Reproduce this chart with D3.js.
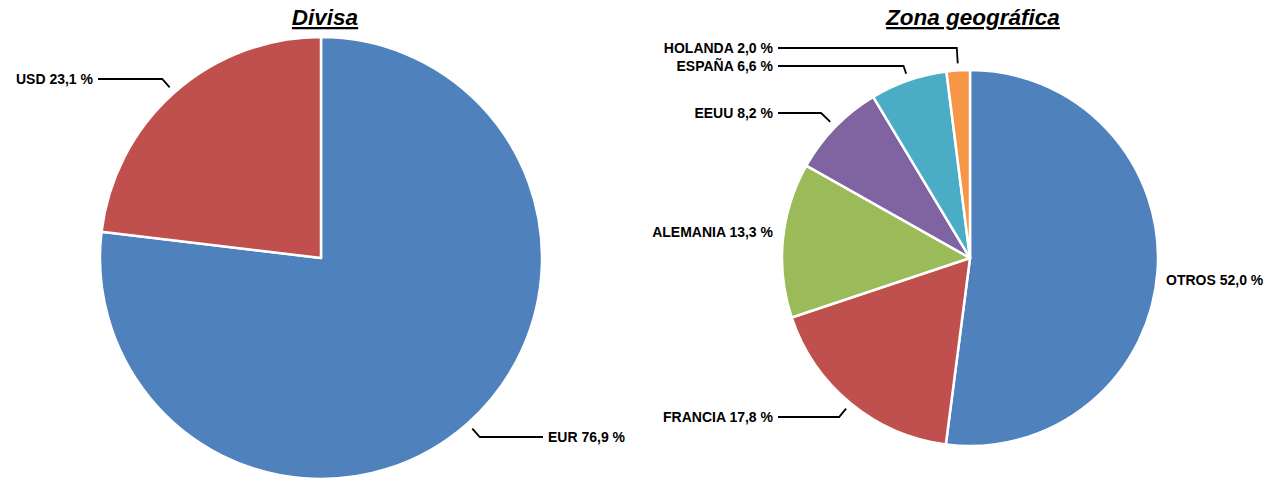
<!DOCTYPE html>
<html>
<head>
<meta charset="utf-8">
<script src="https://cdn.jsdelivr.net/npm/d3@7"></script>
<style>
  body { margin: 0; background: #fff; }
  text { font-family: "Liberation Sans", Arial, sans-serif; font-weight: bold; }
</style>
</head>
<body>
<div id="chart"></div>
<script>
// data
let divisaNames = ["EUR", "USD"];
let divisaValues = [76.9, 23.1];

let zonaNames = ["OTROS", "FRANCIA", "ALEMANIA", "EEUU", "ESPAÑA", "HOLANDA"];
let zonaValues = [52.0, 17.8, 13.3, 8.2, 6.6, 2.0];

let colors = ["#4F81BD", "#C0504D", "#9BBB59", "#8064A2", "#4BACC6", "#F79646"];

// label layout (label x, label y middle, side, draw leader?)
let divisaLabels = [
    {x: 548, y: 437, side: "right", leader: true},
    {x: 93, y: 79, side: "left", leader: true}
];
let zonaLabels = [
    {x: 1166, y: 280, side: "right", leader: false},
    {x: 773, y: 417, side: "left", leader: true},
    {x: 773, y: 232, side: "left", leader: false},
    {x: 773, y: 113, side: "left", leader: true},
    {x: 773, y: 66, side: "left", leader: true},
    {x: 773, y: 48, side: "left", leader: true}
];

let svg = d3.select("#chart")
    .append("svg")
    .attr("width", 1273)
    .attr("height", 483);

let fmt = v => d3.format(".1f")(v).replace(".", ",") + " %";

function createPie(names, values, labels, cx, cy, radius, title, titleX) {
    svg.append("text")
        .attr("x", titleX)
        .attr("y", 25)
        .attr("text-anchor", "middle")
        .style("font-size", "22.5px")
        .style("font-style", "italic")
        .style("text-decoration", "underline")
        .text(title);

    let g = svg.append("g")
        .attr("transform", "translate(" + cx + ", " + cy + ")");

    let pie = d3.pie().sort(null).value(d => d);
    let arcs = pie(values);

    let arc = d3.arc().innerRadius(0).outerRadius(radius);

    g.selectAll(".slice")
        .data(arcs)
        .enter()
        .append("path")
        .attr("class", "slice")
        .attr("d", arc)
        .style("fill", (d, i) => colors[i])
        .style("stroke", "#fff")
        .style("stroke-width", 2.5)
        .style("stroke-linejoin", "round");

    arcs.forEach(function(d, i) {
        let lab = labels[i];
        let ly = lab.y - cy;
        let lx = lab.x - cx;
        let mid = (d.startAngle + d.endAngle) / 2;
        let sx = Math.sin(mid), sy = -Math.cos(mid);

        if (lab.leader) {
            // start just outside the edge, run radially to the label row, then flat
            let r0 = radius + 7;
            let p0 = [sx * r0, sy * r0];
            let t = (ly - p0[1]) / sy;
            let p1 = [p0[0] + sx * t, ly];
            let p2 = [lab.side == "left" ? lx + 5 : lx - 5, ly];

            g.append("path")
                .attr("d", d3.line()([p0, p1, p2]))
                .style("fill", "none")
                .style("stroke", "#000")
                .style("stroke-width", 1.8);
        }

        g.append("text")
            .attr("x", lx)
            .attr("y", ly)
            .attr("dy", "0.36em")
            .attr("text-anchor", lab.side == "left" ? "end" : "start")
            .style("font-size", "14px")
            .text(names[i] + " " + fmt(values[i]));
    });
}

createPie(divisaNames, divisaValues, divisaLabels, 321, 258, 221, "Divisa", 325);
createPie(zonaNames, zonaValues, zonaLabels, 970, 258, 188, "Zona geográfica", 973);
</script>
</body>
</html>
